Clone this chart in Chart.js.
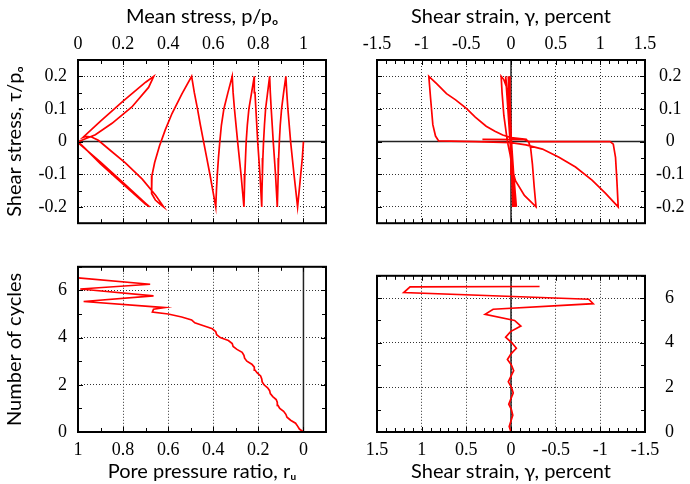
<!DOCTYPE html>
<html>
<head>
<meta charset="utf-8">
<title>Cyclic simple shear test</title>
<script src="https://cdn.jsdelivr.net/npm/chart.js@4.4.1/dist/chart.umd.min.js"></script>
<style>
  body { margin: 0; background: #fff; }
  #figure { position: relative; width: 690px; height: 484px; }
  #figure canvas { position: absolute; }
</style>
</head>
<body>
<div id="figure">
  <canvas id="stressPath" width="345" height="245" style="left:0;top:0"></canvas>
  <canvas id="stressStrain" width="345" height="245" style="left:345px;top:0"></canvas>
  <canvas id="poreRatio" width="345" height="239" style="left:0;top:245px"></canvas>
  <canvas id="strainCycles" width="345" height="239" style="left:345px;top:245px"></canvas>
</div>
<script>
// values
// stress path: [p/po, tau/po]
const stressPath = [
  [1.000, 0.000], [0.995, -0.050], [0.988, -0.100], [0.981, -0.150], [0.974, -0.200],
  [0.958, -0.100], [0.943, 0.000], [0.931, 0.100], [0.926, 0.150], [0.922, 0.200],
  [0.912, 0.150], [0.903, 0.100], [0.897, 0.050], [0.893, 0.000], [0.890, -0.050], [0.888, -0.100], [0.886, -0.150], [0.884, -0.200],
  [0.876, -0.100], [0.866, 0.000], [0.857, 0.100], [0.853, 0.150], [0.850, 0.200],
  [0.841, 0.150], [0.832, 0.100], [0.827, 0.050], [0.823, 0.000], [0.820, -0.050], [0.818, -0.100], [0.816, -0.150], [0.815, -0.200],
  [0.807, -0.100], [0.797, 0.000], [0.789, 0.100], [0.785, 0.150], [0.782, 0.200],
  [0.770, 0.150], [0.758, 0.100], [0.751, 0.050], [0.746, 0.000], [0.743, -0.050], [0.740, -0.100], [0.738, -0.150], [0.736, -0.200],
  [0.723, -0.100], [0.708, 0.000], [0.694, 0.100], [0.688, 0.150], [0.684, 0.200],
  [0.665, 0.150], [0.647, 0.100], [0.636, 0.050], [0.629, 0.000], [0.623, -0.050], [0.618, -0.100], [0.614, -0.150], [0.611, -0.200],
  [0.598, -0.150], [0.585, -0.100], [0.571, -0.050], [0.557, 0.000], [0.543, 0.050], [0.530, 0.100], [0.516, 0.150], [0.504, 0.200],
  [0.461, 0.146], [0.417, 0.086], [0.387, 0.036], [0.361, -0.014], [0.340, -0.064], [0.328, -0.104], [0.325, -0.134], [0.328, -0.159], [0.343, -0.179], [0.365, -0.192], [0.380, -0.200],
  [0.345, -0.165], [0.285, -0.115], [0.210, -0.065], [0.140, -0.025], [0.090, 0.004], [0.060, 0.014], [0.035, 0.016], [0.022, 0.013],
  [0.100, 0.063], [0.200, 0.124], [0.300, 0.182], [0.336, 0.200],
  [0.313, 0.166], [0.239, 0.106], [0.151, 0.056], [0.077, 0.021], [0.033, 0.009], [0.006, 0.001],
  [0.000, -0.003], [0.100, -0.063], [0.200, -0.126], [0.300, -0.189], [0.318, -0.200],
  [0.300, -0.192], [0.200, -0.130], [0.100, -0.068], [0.030, -0.020], [0.000, 0.000]
];

// stress-strain loops: [gamma %, tau/po]
const stressStrain = [
  [0.000, 0.000], [0.008, -0.100], [0.020, -0.200], [0.010, -0.100], [0.000, 0.000], [-0.008, 0.100], [-0.020, 0.200], [-0.012, 0.100], [-0.005, 0.000],
  [0.010, -0.100], [0.025, -0.200], [0.012, -0.100], [0.000, 0.000], [-0.010, 0.100], [-0.025, 0.200], [-0.015, 0.100], [-0.005, 0.000],
  [0.012, -0.100], [0.030, -0.200], [0.015, -0.100], [0.000, 0.000], [-0.012, 0.100], [-0.030, 0.200], [-0.018, 0.100], [-0.005, 0.000],
  [0.015, -0.100], [0.040, -0.200], [0.020, -0.100], [0.000, 0.000], [-0.020, 0.100], [-0.060, 0.200], [-0.035, 0.100], [-0.010, 0.000],
  [0.015, -0.100], [0.060, -0.200], [0.030, -0.100], [0.005, 0.000],
  [-0.010, 0.100], [-0.040, 0.160], [-0.080, 0.190], [-0.110, 0.200],
  [-0.100, 0.150], [-0.080, 0.080], [-0.050, 0.020], [-0.040, 0.000],
  [-0.010, -0.040], [0.020, -0.090], [0.050, -0.120], [0.150, -0.165], [0.280, -0.200],
  [0.260, -0.140], [0.240, -0.070], [0.220, -0.020], [0.200, -0.003], [0.170, 0.007],
  [0.000, 0.012], [-0.093, 0.020], [-0.180, 0.032], [-0.278, 0.047], [-0.400, 0.075], [-0.500, 0.102], [-0.620, 0.128], [-0.722, 0.147], [-0.830, 0.177], [-0.920, 0.200],
  [-0.900, 0.132], [-0.875, 0.052], [-0.845, 0.017], [-0.810, 0.002], [-0.400, 0.000], [0.000, -0.003],
  [0.167, -0.010], [0.352, -0.023], [0.537, -0.048], [0.722, -0.078], [0.907, -0.118], [1.056, -0.158], [1.200, -0.200],
  [1.185, -0.118], [1.170, -0.048], [1.145, -0.008], [1.110, 0.000], [0.200, 0.000], [0.150, 0.006], [-0.320, 0.007]
];

// pore pressure ratio: [ru, cycles]
const poreRatio = [
  [0.000, 0.000], [0.018, 0.125], [0.026, 0.250], [0.035, 0.375], [0.057, 0.500], [0.073, 0.625], [0.078, 0.750], [0.088, 0.875],
  [0.105, 1.000], [0.113, 1.125], [0.116, 1.250], [0.121, 1.375], [0.136, 1.500], [0.147, 1.625], [0.150, 1.750], [0.159, 1.875],
  [0.175, 2.000], [0.183, 2.125], [0.185, 2.250], [0.190, 2.375], [0.205, 2.500], [0.215, 2.625], [0.218, 2.750], [0.229, 2.875],
  [0.251, 3.000], [0.261, 3.125], [0.264, 3.250], [0.272, 3.375], [0.295, 3.500], [0.312, 3.625], [0.316, 3.750], [0.333, 3.875],
  [0.369, 4.000], [0.385, 4.125], [0.389, 4.250], [0.404, 4.375], [0.443, 4.500], [0.482, 4.625], [0.496, 4.750], [0.540, 4.875],
  [0.600, 5.000], [0.670, 5.080], [0.665, 5.200], [0.615, 5.270], [0.975, 5.530], [0.665, 5.770], [0.990, 6.060], [0.680, 6.260], [1.000, 6.530]
];

// shear strain history: [gamma %, cycles]
const strainCycles = [
  [0.000, 0.00], [0.020, 0.25], [0.000, 0.50], [-0.020, 0.75], [-0.005, 1.00], [0.025, 1.25], [0.000, 1.50], [-0.025, 1.75],
  [-0.005, 2.00], [0.030, 2.25], [0.000, 2.50], [-0.030, 2.75], [-0.005, 3.00], [0.040, 3.25], [0.000, 3.50], [-0.060, 3.75],
  [-0.010, 4.00], [0.060, 4.25], [0.005, 4.50], [-0.110, 4.75], [-0.040, 5.00], [0.290, 5.27], [0.200, 5.50], [-0.920, 5.75],
  [-0.870, 5.95], [1.200, 6.25], [1.130, 6.50], [-0.320, 6.52]
];

// labelled ticks
const meanStressTicks = [0, 0.2, 0.4, 0.6, 0.8, 1];
const shearStressTicks = [-0.2, -0.1, 0, 0.1, 0.2];
const strainTicks = [-1.5, -1, -0.5, 0, 0.5, 1, 1.5];
const ruTicks = [0, 0.2, 0.4, 0.6, 0.8, 1];
const cycleTicks = [0, 2, 4, 6];

const tickFont = { family: '"Liberation Serif", "DejaVu Serif", serif', size: 18 };
const titleFont = { family: 'Lato, "Open Sans", sans-serif', size: 20 };

function isLabelled(list, v) {
  return list.some((t) => Math.abs(t - v) < 1e-6);
}

function makeAxis(o) {
  const vertical = o.position === 'left' || o.position === 'right';
  return {
    type: 'linear',
    position: o.position,
    min: o.min,
    max: o.max,
    reverse: !!o.reverse,
    afterFit: (scale) => {
      if (vertical) scale.width = o.size;
      else scale.height = o.size;
    },
    grid: {
      drawTicks: false,
      lineWidth: 1,
      color: (c) => (c.tick && isLabelled(o.labels, c.tick.value) ? '#333' : 'rgba(0,0,0,0)')
    },
    border: { display: false, dash: [1, 2] },
    ticks: {
      stepSize: o.step,
      autoSkip: false,
      maxRotation: 0,
      minRotation: 0,
      padding: o.pad,
      crossAlign: o.cross || 'near',
      color: '#000',
      font: tickFont,
      callback: (v) => (isLabelled(o.labels, v) ? String(Math.round(v * 100) / 100) : '')
    },
    title: {
      display: !!o.title,
      text: o.title || '',
      color: '#000',
      font: titleFont,
      padding: o.titlePad || 0
    }
  };
}

// box round the plot area and inward ticks on all four sides
const frame = {
  id: 'frame',
  afterDatasetsDraw(chart) {
    const { ctx, chartArea: a, scales } = chart;
    ctx.save();
    ctx.strokeStyle = '#000';
    ctx.lineWidth = 1;
    ctx.beginPath();
    scales.x.ticks.forEach((t) => {
      const px = Math.round(scales.x.getPixelForValue(t.value)) + 0.5;
      const len = t.label ? 5 : 4;
      ctx.moveTo(px, a.top); ctx.lineTo(px, a.top + len);
      ctx.moveTo(px, a.bottom); ctx.lineTo(px, a.bottom - len);
    });
    scales.y.ticks.forEach((t) => {
      const py = Math.round(scales.y.getPixelForValue(t.value)) + 0.5;
      const len = t.label ? 5 : 4;
      ctx.moveTo(a.left, py); ctx.lineTo(a.left + len, py);
      ctx.moveTo(a.right, py); ctx.lineTo(a.right - len, py);
    });
    ctx.stroke();
    ctx.lineWidth = 2;
    ctx.strokeRect(a.left, a.top, a.right - a.left, a.bottom - a.top);
    ctx.restore();
  }
};

function curve(pairs) {
  return {
    data: pairs.map(([x, y]) => ({ x, y })),
    showLine: true,
    borderColor: '#ff0000',
    borderWidth: 1.7,
    pointRadius: 0
  };
}

function zeroLine(pairs) {
  return {
    data: pairs.map(([x, y]) => ({ x, y })),
    showLine: true,
    borderColor: '#222',
    borderWidth: 1.5,
    pointRadius: 0
  };
}

function panel(id, datasets, xAxis, yAxis, padding) {
  return new Chart(document.getElementById(id), {
    type: 'scatter',
    data: { datasets },
    options: {
      responsive: false,
      animation: false,
      events: [],
      layout: { padding },
      plugins: { legend: { display: false }, tooltip: { enabled: false } },
      scales: { x: xAxis, y: yAxis }
    },
    plugins: [frame]
  });
}

panel('stressPath',
  [curve(stressPath), zeroLine([[0, 0], [1.1, 0]])],
  makeAxis({ position: 'top', min: 0, max: 1.1, step: 0.1, labels: meanStressTicks, size: 60, pad: 5,
    title: 'Mean stress, p/pₒ', titlePad: { top: 5, bottom: 0 } }),
  makeAxis({ position: 'left', min: -0.25, max: 0.25, step: 0.05, labels: shearStressTicks, size: 78, pad: 11,
    title: 'Shear stress, τ/pₒ', titlePad: { top: 3, bottom: 0 } }),
  { left: 0, top: 0, right: 19, bottom: 18 });

panel('stressStrain',
  [curve(stressStrain), zeroLine([[-1.5, 0], [1.5, 0]]), zeroLine([[0, -0.25], [0, 0.25]])],
  makeAxis({ position: 'top', min: -1.5, max: 1.5, step: 0.1, labels: strainTicks, size: 60, pad: 5,
    title: 'Shear strain, γ, percent', titlePad: { top: 5, bottom: 0 } }),
  makeAxis({ position: 'right', min: -0.25, max: 0.25, step: 0.05, labels: shearStressTicks, size: 45, pad: 11, cross: 'center' }),
  { left: 32, top: 0, right: 0, bottom: 18 });

panel('poreRatio',
  [curve(poreRatio), zeroLine([[0, 0], [0, 7]])],
  makeAxis({ position: 'bottom', min: -0.1, max: 1, reverse: true, step: 0.1, labels: ruTicks, size: 52, pad: 7,
    title: 'Pore pressure ratio, rᵤ', titlePad: { top: 0, bottom: 0 } }),
  makeAxis({ position: 'left', min: 0, max: 7, step: 1, labels: cycleTicks, size: 78, pad: 11,
    title: 'Number of cycles', titlePad: { top: 3, bottom: 0 } }),
  { left: 0, top: 20, right: 19, bottom: 0 });

panel('strainCycles',
  [curve(strainCycles), zeroLine([[0, 0], [0, 7]])],
  makeAxis({ position: 'bottom', min: -1.5, max: 1.5, reverse: true, step: 0.1, labels: strainTicks, size: 52, pad: 7,
    title: 'Shear strain, γ, percent', titlePad: { top: 0, bottom: 0 } }),
  makeAxis({ position: 'right', min: 0, max: 7, step: 1, labels: cycleTicks, size: 45, pad: 20, cross: 'center' }),
  { left: 32, top: 20, right: 0, bottom: 0 });
</script>
</body>
</html>
